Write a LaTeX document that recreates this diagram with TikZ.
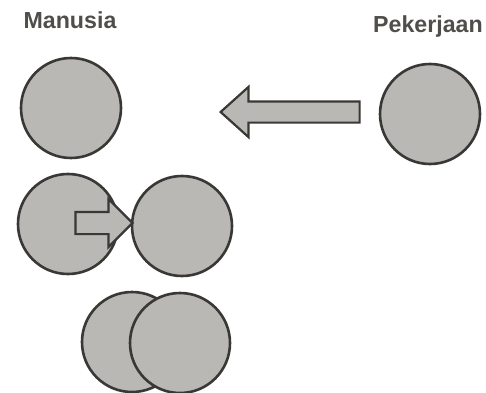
\documentclass[tikz,border=0pt]{standalone}
\usepackage{fontspec}
\newfontfamily\headfont{Liberation Sans}
\usepackage{tikz}
\usetikzlibrary{shapes.arrows, positioning, calc}

\definecolor{discfill}{RGB}{186,184,180}
\definecolor{discline}{RGB}{58,56,54}
\definecolor{headtext}{RGB}{80,78,74}

\begin{document}
\begin{tikzpicture}[
    x=0.5mm, y=-0.5mm,
    disc/.style={
        circle, draw=discline, fill=discfill, line width=1.3mm,
        minimum size=50mm, inner sep=0pt
    },
    heading/.style={font=\headfont\bfseries\fontsize{33}{36}\selectfont, text=headtext, inner sep=0pt},
    fatarrow/.style={
        single arrow, draw=discline, fill=discfill, line width=1.1mm,
        inner sep=0pt, shape border rotate=180
    },
]
\useasboundingbox (0,0) rectangle (486,393);

% Headings
\node[heading, anchor=base] (manusia) at (70,29) {Manusia};
\node[heading, anchor=base west] (pekerjaan) at (373,33) {Pekerjaan};

% First row
\node[disc] (m1) at (71,108) {};
\node[disc] (p1) at (430,114) {};
\node[fatarrow, minimum height=69.5mm, minimum width=25mm,
      inner ysep=4.75mm, single arrow head extend=7.25mm,
      single arrow tip angle=84] (a1) at (296,112) {};

% Second row
\node[disc] (m2) at (68,224) {};
\node[disc] (p2) at (182,226) {};
\node[fatarrow, shape border rotate=0, minimum height=28.5mm, minimum width=23mm,
      inner ysep=5mm, single arrow head extend=6.5mm,
      single arrow tip angle=90] (a2) at (98.5,223) {};

% Third row
\node[disc] (m3) at (132,342) {};
\node[disc] (p3) at (180,343) {};

\end{tikzpicture}
\end{document}
